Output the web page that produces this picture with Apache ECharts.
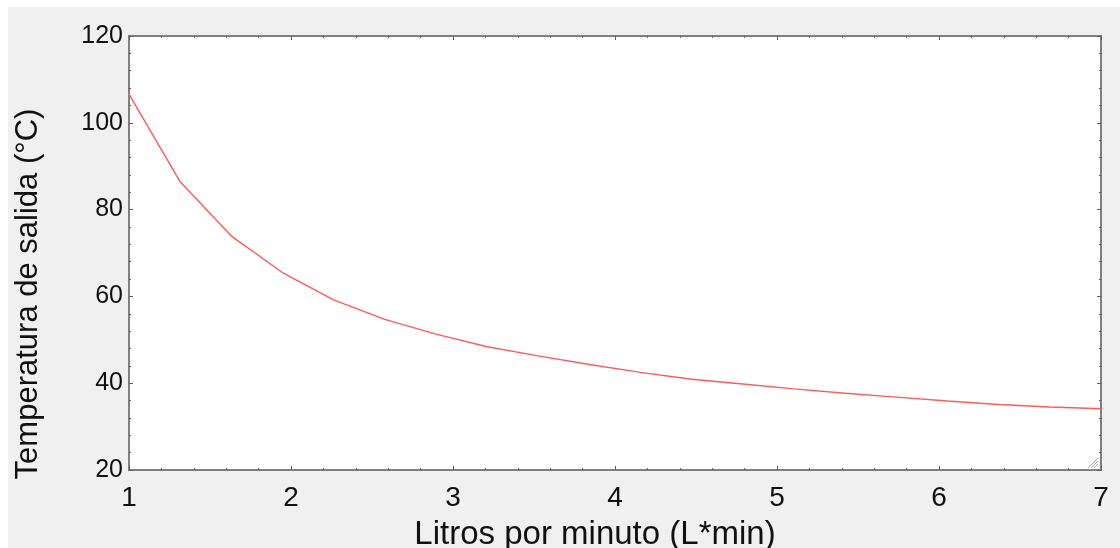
<!DOCTYPE html>
<html>
<head>
<meta charset="utf-8">
<script src="https://cdn.jsdelivr.net/npm/echarts@6/dist/echarts.min.js"></script>
<style>
html,body{margin:0;padding:0;background:#fff;}
#c{width:1120px;height:548px;}
</style>
</head>
<body>
<div id="c"></div>
<script>
var flowLpm = [1, 1.316, 1.632, 1.947, 2.263, 2.579, 2.895, 3.211, 3.526, 3.842, 4.158, 4.474, 4.789, 5.105, 5.421, 5.737, 6.053, 6.368, 6.684, 7];
var outletTemp = [106.6, 86.4, 73.9, 65.5, 59.2, 54.7, 51.3, 48.4, 46.3, 44.3, 42.5, 40.9, 39.8, 38.7, 37.7, 36.8, 35.9, 35.1, 34.5, 34.1];
var xTicks = [1, 2, 3, 4, 5, 6, 7];
var yTicks = [20, 40, 60, 80, 100, 120];
var xTitle = 'Litros por minuto (L*min)';
var yTitle = 'Temperatura de salida (°C)';

var FONT = '"Liberation Sans", Arial, sans-serif';
var chart = echarts.init(document.getElementById('c'));
var pts = flowLpm.map(function (x, i) { return [x, outletTemp[i]]; });

function axisCommon(extra) {
  var o = {
    type: 'value',
    axisLine: { show: true, lineStyle: { color: '#808080', width: 2 } },
    axisTick: { show: true, inside: true, length: 4, lineStyle: { color: '#606060', width: 1 } },
    minorTick: { show: true, splitNumber: 5, length: 2, lineStyle: { color: '#606060', width: 1 } },
    splitLine: { show: false },
    minorSplitLine: { show: false }
  };
  for (var k in extra) o[k] = extra[k];
  return o;
}

chart.setOption({
  backgroundColor: 'transparent',
  animation: false,
  graphic: [
    { type: 'rect', z: -10, shape: { x: 8, y: 7, width: 1112, height: 541 }, style: { fill: '#f0f0f0' } },
    { type: 'text', x: 595, y: 535, style: { text: xTitle, font: '33px ' + FONT, fill: '#111', textAlign: 'center', textVerticalAlign: 'middle' } },
    { type: 'text', x: 28, y: 294, rotation: Math.PI / 2, style: { text: yTitle, font: '31px ' + FONT, fill: '#111', textAlign: 'center', textVerticalAlign: 'middle' } },
    { type: 'group', z: 100, children: [
      { type: 'line', shape: { x1: 1088, y1: 468, x2: 1098, y2: 458 }, style: { stroke: '#a0a0a0', lineWidth: 1 } },
      { type: 'line', shape: { x1: 1091, y1: 468, x2: 1098, y2: 461 }, style: { stroke: '#a0a0a0', lineWidth: 1 } },
      { type: 'line', shape: { x1: 1094, y1: 468, x2: 1098, y2: 464 }, style: { stroke: '#a0a0a0', lineWidth: 1 } }
    ] }
  ],
  grid: { left: 129, top: 36, right: 19, bottom: 78, show: true, backgroundColor: '#fff', borderColor: '#808080', borderWidth: 2 },
  xAxis: [
    axisCommon({
      min: xTicks[0], max: xTicks[xTicks.length - 1], interval: 1, position: 'bottom',
      axisLabel: { color: '#111', fontSize: 28, fontFamily: FONT, margin: 14,
        formatter: function (v) { return xTicks.indexOf(v) >= 0 ? String(v) : ''; } }
    }),
    axisCommon({
      min: xTicks[0], max: xTicks[xTicks.length - 1], interval: 1, position: 'top',
      axisLabel: { show: false }
    })
  ],
  yAxis: [
    axisCommon({
      min: yTicks[0], max: yTicks[yTicks.length - 1], interval: 20, position: 'left',
      axisLabel: { color: '#111', fontSize: 25, fontFamily: FONT, margin: 6,
        formatter: function (v) { return yTicks.indexOf(v) >= 0 ? String(v) : ''; } }
    }),
    axisCommon({
      min: yTicks[0], max: yTicks[yTicks.length - 1], interval: 20, position: 'right',
      axisLabel: { show: false }
    })
  ],
  series: [{
    type: 'line',
    data: pts,
    xAxisIndex: 0, yAxisIndex: 0,
    showSymbol: false,
    smooth: false,
    lineStyle: { color: '#ff5a5a', width: 1.4 }
  }]
});
</script>
</body>
</html>
